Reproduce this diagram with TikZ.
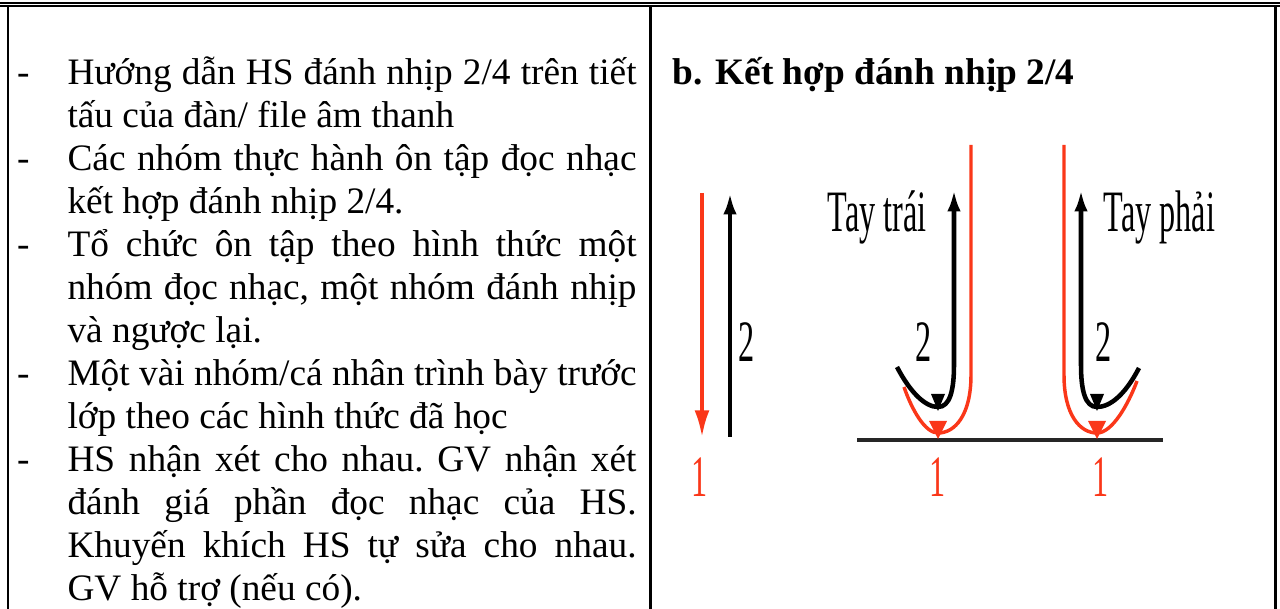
\documentclass[tikz,border=0pt]{standalone}
\usepackage{fontspec}
\setmainfont{Liberation Serif}
\newfontfamily\narrowfont[FakeStretch=0.55]{Liberation Serif}
\usetikzlibrary{arrows.meta}
\definecolor{beatred}{RGB}{250,55,25}
\newcommand{\fullline}[1]{\makebox[213.4pt][s]{#1}}
\frenchspacing

\begin{document}
\begin{tikzpicture}[x=0.375pt,y=-0.375pt]
   \tikzstyle{txt} = [anchor=base west, inner sep=0pt, font=\fontsize{14}{16}\selectfont]
   \tikzstyle{lbl} = [inner sep=0pt, font=\narrowfont\fontsize{22}{22}\selectfont]
   \tikzstyle{rule} = [line width=0.9pt]
   \tikzstyle{up} = [draw, line width=1.7pt, -{Latex[length=8pt,width=5pt]}]
   \tikzstyle{down} = [draw, beatred, line width=1.3pt]
   \useasboundingbox (0,0) rectangle (1280,609);

   % table frame
   \draw[line width=0.65pt] (0,3.3) -- (1280,3.3);
   \draw[line width=0.9pt] (0,6.3) -- (1280,6.3);
   \draw[rule] (8,6) -- (8,609);
   \draw[rule] (650.5,6) -- (650.5,609);
   \draw[rule] (1275.5,6) -- (1275.5,609);

   % left column
   \node[txt] (dash1) at (16.5,85) {-};
   \node[txt] (line1) at (67,85) {\fullline{Hướng dẫn HS đánh nhịp 2/4 trên tiết}};
   \node[txt] (line2) at (67,128) {tấu của đàn/ file âm thanh};
   \node[txt] (dash2) at (16.5,171) {-};
   \node[txt] (line3) at (67,171) {\fullline{Các nhóm thực hành ôn tập đọc nhạc}};
   \node[txt] (line4) at (67,214) {kết hợp đánh nhịp 2/4.};
   \node[txt] (dash3) at (16.5,257) {-};
   \node[txt] (line5) at (67,257) {\fullline{Tổ chức ôn tập theo hình thức một}};
   \node[txt] (line6) at (67,300) {\fullline{nhóm đọc nhạc, một nhóm đánh nhịp}};
   \node[txt] (line7) at (67,343) {và ngược lại.};
   \node[txt] (dash4) at (16.5,386) {-};
   \node[txt] (line8) at (67,386) {\fullline{Một vài nhóm/cá nhân trình bày trước}};
   \node[txt] (line9) at (67,429) {lớp theo các hình thức đã học};
   \node[txt] (dash5) at (16.5,472) {-};
   \node[txt] (line10) at (67,472) {\fullline{HS nhận xét cho nhau. GV nhận xét}};
   \node[txt] (line11) at (67,515) {\fullline{đánh giá phần đọc nhạc của HS.}};
   \node[txt] (line12) at (67,558) {\fullline{Khuyến khích HS tự sửa cho nhau.}};
   \node[txt] (line13) at (67,601) {GV hỗ trợ (nếu có).};

   % right column
   \node[txt, font=\fontsize{14}{16}\selectfont\bfseries] (hb) at (672,85) {b.};
   \node[txt, font=\fontsize{14}{16}\selectfont\bfseries] (head) at (715,85) {Kết hợp đánh nhịp 2/4};

   % beats 1 and 2
   \draw[down, -{Latex[length=10pt,width=5.6pt]}] (702,193) -- (702,437);
   \draw[up] (730,437) -- (730,193);
   \node[lbl, anchor=base west] (two0) at (738,362) {2};
   \node[lbl, anchor=base, beatred] (one0) at (700,497) {1};

   \draw[line width=1.4pt, black!85] (857,440) -- (1163,440);

   % left hand
   \draw[down] (971,145) -- (971,375) .. controls (971,415) and (955,433) .. (938,433)
      .. controls (925,433) and (912,410) .. (904,387);
   \fill[beatred] (929,421) -- (947,421) -- (938,439) -- cycle;
   \draw[up] (897,367) .. controls (910,392) and (925,407) .. (938,407)
      .. controls (950,407) and (954,390) .. (954,365) -- (954,190);
   \fill (931,394) -- (945,394) -- (938,411) -- cycle;
   \node[lbl, anchor=base west] (left) at (827,232) {Tay trái};
   \node[lbl, anchor=base west] (two1) at (915,362) {2};
   \node[lbl, anchor=base, beatred] (one1) at (938,497) {1};

   % right hand
   \draw[down] (1064,145) -- (1064,375) .. controls (1064,415) and (1080,433) .. (1097,433)
      .. controls (1112,433) and (1128,405) .. (1137,381);
   \fill[beatred] (1088,421) -- (1106,421) -- (1097,439) -- cycle;
   \draw[up] (1139,368) .. controls (1125,395) and (1110,407) .. (1097,407)
      .. controls (1085,407) and (1081,390) .. (1081,365) -- (1081,190);
   \fill (1090,394) -- (1104,394) -- (1097,411) -- cycle;
   \node[lbl, anchor=base west] (right) at (1103,232) {Tay phải};
   \node[lbl, anchor=base west] (two2) at (1095,362) {2};
   \node[lbl, anchor=base, beatred] (one2) at (1101,497) {1};
\end{tikzpicture}
\end{document}
